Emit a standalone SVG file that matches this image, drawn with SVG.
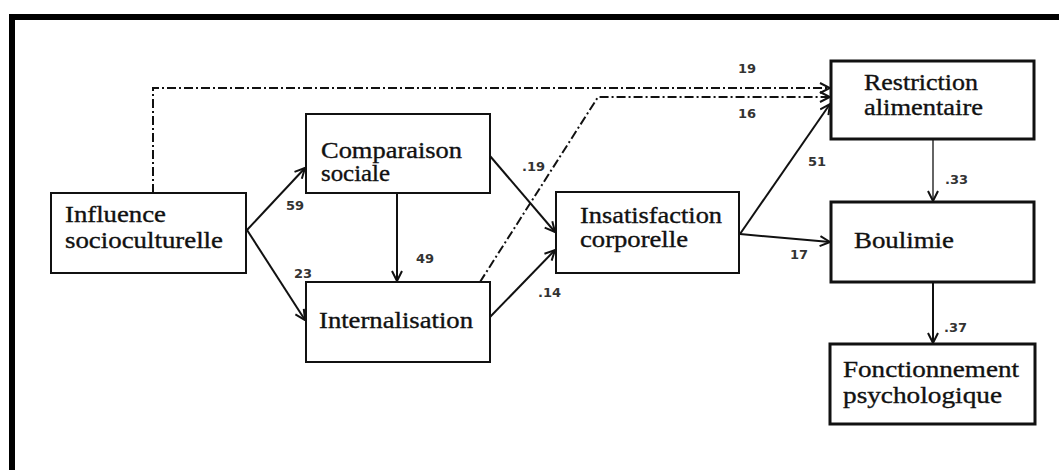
<svg xmlns="http://www.w3.org/2000/svg" width="1059" height="470" viewBox="0 0 1059 470">
<defs>
<style>
.box{fill:#fff;stroke:#111;stroke-width:2}
.thick{stroke-width:3}
.t{font-size:23px;fill:#111;stroke:#111;stroke-width:0.35}
.l{font-size:13px;font-weight:bold;fill:#333}
.c{fill:none;stroke:#111;stroke-width:2}
.thin{stroke-width:1.3}
.dd{stroke-dasharray:9 3 2 3;stroke-width:2}
</style>
<marker id="ah" viewBox="0 0 12 12" refX="11" refY="6" markerWidth="12" markerHeight="12" markerUnits="userSpaceOnUse" orient="auto">
<path d="M1,1 L11,6 L1,11" fill="none" stroke="#111" stroke-width="2"/>
</marker>
</defs>
<rect width="1059" height="470" fill="#fff"/>
<path d="M12,470 V17 H1059" fill="none" stroke="#000" stroke-width="6"/>
<g id="connectors" font-family="DejaVu Sans, sans-serif">
<path class="c dd" d="M153,193 V88 H830" marker-end="url(#ah)"/>
<path class="c dd" d="M480,282 L598,97 H830" marker-end="url(#ah)"/>
<path class="c" d="M247,230 L305,168" marker-end="url(#ah)"/>
<path class="c" d="M247,230 L305,320" marker-end="url(#ah)"/>
<path class="c" d="M397,193 V281" marker-end="url(#ah)"/>
<path class="c" d="M490,156 L555,232" marker-end="url(#ah)"/>
<path class="c" d="M490,317 L555,250" marker-end="url(#ah)"/>
<path class="c" d="M740,234 L830,104" marker-end="url(#ah)"/>
<path class="c" d="M740,234 L830,242" marker-end="url(#ah)"/>
<path class="c thin" d="M933,139 V201" marker-end="url(#ah)"/>
<path class="c" d="M933,282 V343" marker-end="url(#ah)"/>
<text class="l" x="286" y="210">59</text>
<text class="l" x="294" y="278">23</text>
<text class="l" x="416" y="263">49</text>
<text class="l" x="522" y="171">.19</text>
<text class="l" x="538" y="297">.14</text>
<text class="l" x="738" y="73">19</text>
<text class="l" x="738" y="118">16</text>
<text class="l" x="808" y="166">51</text>
<text class="l" x="945" y="184">.33</text>
<text class="l" x="790" y="259">17</text>
<text class="l" x="944" y="332">.37</text>
</g>
<g id="influence" font-family="Liberation Serif, serif">
<rect class="box" x="51" y="193" width="195" height="80"/>
<text class="t" x="65" y="222" textLength="101" lengthAdjust="spacingAndGlyphs">Influence</text>
<text class="t" x="65" y="248" textLength="158" lengthAdjust="spacingAndGlyphs">socioculturelle</text>
</g>
<g id="comparaison" font-family="Liberation Serif, serif">
<rect class="box" x="306" y="114" width="184" height="79"/>
<text class="t" x="321" y="158" textLength="141" lengthAdjust="spacingAndGlyphs">Comparaison</text>
<text class="t" x="321" y="181" textLength="69" lengthAdjust="spacingAndGlyphs">sociale</text>
</g>
<g id="internalisation" font-family="Liberation Serif, serif">
<rect class="box" x="306" y="282" width="184" height="80"/>
<text class="t" x="319" y="328" textLength="154" lengthAdjust="spacingAndGlyphs">Internalisation</text>
</g>
<g id="insatisfaction" font-family="Liberation Serif, serif">
<rect class="box" x="556" y="192" width="183" height="81"/>
<text class="t" x="580" y="223" textLength="142" lengthAdjust="spacingAndGlyphs">Insatisfaction</text>
<text class="t" x="580" y="247" textLength="108" lengthAdjust="spacingAndGlyphs">corporelle</text>
</g>
<g id="restriction" font-family="Liberation Serif, serif">
<rect class="box thick" x="831" y="61" width="203" height="78"/>
<text class="t" x="864" y="90" textLength="114" lengthAdjust="spacingAndGlyphs">Restriction</text>
<text class="t" x="864" y="115" textLength="119" lengthAdjust="spacingAndGlyphs">alimentaire</text>
</g>
<g id="boulimie" font-family="Liberation Serif, serif">
<rect class="box thick" x="831" y="202" width="203" height="80"/>
<text class="t" x="854" y="248" textLength="100" lengthAdjust="spacingAndGlyphs">Boulimie</text>
</g>
<g id="fonctionnement" font-family="Liberation Serif, serif">
<rect class="box thick" x="830" y="344" width="205" height="80"/>
<text class="t" x="843" y="377" textLength="176" lengthAdjust="spacingAndGlyphs">Fonctionnement</text>
<text class="t" x="843" y="403" textLength="159" lengthAdjust="spacingAndGlyphs">psychologique</text>
</g>
</svg>
